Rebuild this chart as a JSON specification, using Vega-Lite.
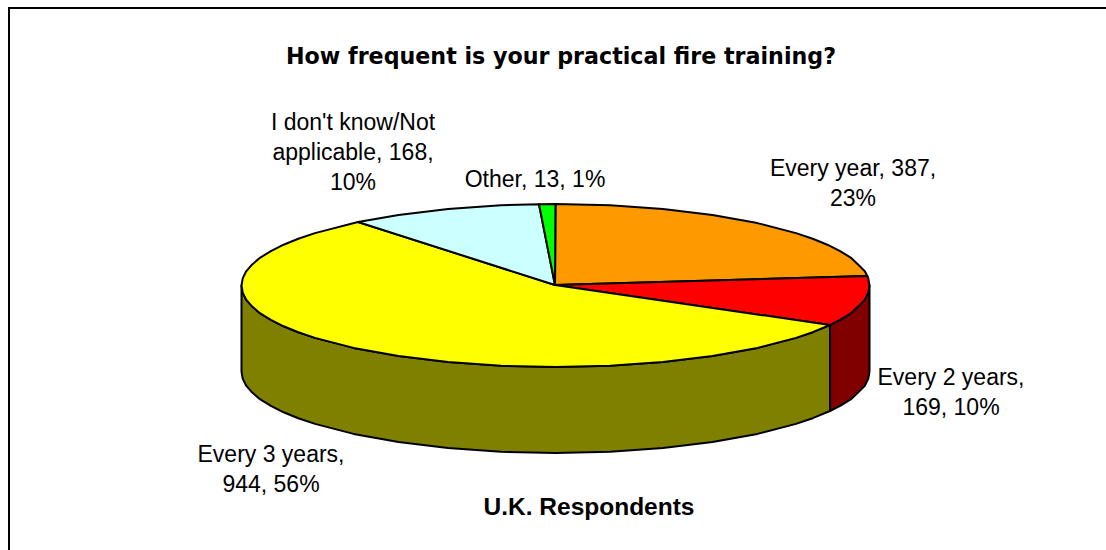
{"$schema":"https://vega.github.io/schema/vega-lite/v6.json","width":1106,"height":550,"padding":0,"autosize":{"type":"none"},"background":"white","view":{"stroke":null},
"datasets":{
"faces":[
{"face":"Every 3 years side","x":830,"y":325},{"face":"Every 3 years side","x":812.7,"y":332.2},{"face":"Every 3 years side","x":796,"y":337.9},{"face":"Every 3 years side","x":757.4,"y":347.9},{"face":"Every 3 years side","x":712.5,"y":356.1},{"face":"Every 3 years side","x":662.9,"y":362.1},{"face":"Every 3 years side","x":610.1,"y":365.8},{"face":"Every 3 years side","x":555.5,"y":367},{"face":"Every 3 years side","x":500.9,"y":365.8},{"face":"Every 3 years side","x":448.1,"y":362.1},{"face":"Every 3 years side","x":398.5,"y":356.1},{"face":"Every 3 years side","x":353.6,"y":347.9},{"face":"Every 3 years side","x":315,"y":337.9},{"face":"Every 3 years side","x":298.3,"y":332.2},{"face":"Every 3 years side","x":283.6,"y":326.3},{"face":"Every 3 years side","x":270.9,"y":319.9},{"face":"Every 3 years side","x":260.3,"y":313.4},{"face":"Every 3 years side","x":252.2,"y":306.6},{"face":"Every 3 years side","x":246.2,"y":299.7},{"face":"Every 3 years side","x":242.7,"y":292.6},{"face":"Every 3 years side","x":241.5,"y":285.5},{"face":"Every 3 years side","x":241.5,"y":371.5},{"face":"Every 3 years side","x":242.7,"y":378.6},{"face":"Every 3 years side","x":246.2,"y":385.7},{"face":"Every 3 years side","x":252.2,"y":392.6},{"face":"Every 3 years side","x":260.3,"y":399.4},{"face":"Every 3 years side","x":270.9,"y":405.9},{"face":"Every 3 years side","x":283.6,"y":412.3},{"face":"Every 3 years side","x":298.3,"y":418.2},{"face":"Every 3 years side","x":315,"y":423.9},{"face":"Every 3 years side","x":353.6,"y":433.9},{"face":"Every 3 years side","x":398.5,"y":442.1},{"face":"Every 3 years side","x":448.1,"y":448.1},{"face":"Every 3 years side","x":500.9,"y":451.8},{"face":"Every 3 years side","x":555.5,"y":453},{"face":"Every 3 years side","x":610.1,"y":451.8},{"face":"Every 3 years side","x":662.9,"y":448.1},{"face":"Every 3 years side","x":712.5,"y":442.1},{"face":"Every 3 years side","x":757.4,"y":433.9},{"face":"Every 3 years side","x":796,"y":423.9},{"face":"Every 3 years side","x":812.7,"y":418.2},{"face":"Every 3 years side","x":830,"y":411},{"face":"Every 3 years side","x":830,"y":325},
{"face":"Every 2 years side","x":830,"y":325},{"face":"Every 2 years side","x":840.1,"y":319.9},{"face":"Every 2 years side","x":850.7,"y":313.4},{"face":"Every 2 years side","x":858,"y":306.6},{"face":"Every 2 years side","x":864.8,"y":299.7},{"face":"Every 2 years side","x":868.3,"y":292.6},{"face":"Every 2 years side","x":869.5,"y":285.5},{"face":"Every 2 years side","x":869.5,"y":371.5},{"face":"Every 2 years side","x":868.3,"y":378.6},{"face":"Every 2 years side","x":864.8,"y":385.7},{"face":"Every 2 years side","x":858,"y":392.6},{"face":"Every 2 years side","x":850.7,"y":399.4},{"face":"Every 2 years side","x":840.1,"y":405.9},{"face":"Every 2 years side","x":830,"y":411},{"face":"Every 2 years side","x":830,"y":325},
{"face":"Every year","x":555,"y":285},{"face":"Every year","x":555.5,"y":204},{"face":"Every year","x":610.1,"y":205.2},{"face":"Every year","x":662.9,"y":208.9},{"face":"Every year","x":712.5,"y":214.9},{"face":"Every year","x":757.4,"y":223.1},{"face":"Every year","x":796,"y":233.1},{"face":"Every year","x":812.7,"y":238.8},{"face":"Every year","x":827.4,"y":244.7},{"face":"Every year","x":840.1,"y":251.1},{"face":"Every year","x":850.7,"y":257.6},{"face":"Every year","x":858,"y":264.4},{"face":"Every year","x":864.8,"y":271.3},{"face":"Every year","x":867.3,"y":276},{"face":"Every year","x":555,"y":285},
{"face":"Every 2 years","x":555,"y":285},{"face":"Every 2 years","x":867.3,"y":276},{"face":"Every 2 years","x":868.3,"y":278.4},{"face":"Every 2 years","x":869.5,"y":285.5},{"face":"Every 2 years","x":868.3,"y":292.6},{"face":"Every 2 years","x":864.8,"y":299.7},{"face":"Every 2 years","x":858,"y":306.6},{"face":"Every 2 years","x":850.7,"y":313.4},{"face":"Every 2 years","x":840.1,"y":319.9},{"face":"Every 2 years","x":830,"y":325},{"face":"Every 2 years","x":555,"y":285},
{"face":"Every 3 years","x":555,"y":285},{"face":"Every 3 years","x":830,"y":325},{"face":"Every 3 years","x":812.7,"y":332.2},{"face":"Every 3 years","x":796,"y":337.9},{"face":"Every 3 years","x":757.4,"y":347.9},{"face":"Every 3 years","x":712.5,"y":356.1},{"face":"Every 3 years","x":662.9,"y":362.1},{"face":"Every 3 years","x":610.1,"y":365.8},{"face":"Every 3 years","x":555.5,"y":367},{"face":"Every 3 years","x":500.9,"y":365.8},{"face":"Every 3 years","x":448.1,"y":362.1},{"face":"Every 3 years","x":398.5,"y":356.1},{"face":"Every 3 years","x":353.6,"y":347.9},{"face":"Every 3 years","x":315,"y":337.9},{"face":"Every 3 years","x":298.3,"y":332.2},{"face":"Every 3 years","x":283.6,"y":326.3},{"face":"Every 3 years","x":270.9,"y":319.9},{"face":"Every 3 years","x":260.3,"y":313.4},{"face":"Every 3 years","x":252.2,"y":306.6},{"face":"Every 3 years","x":246.2,"y":299.7},{"face":"Every 3 years","x":242.7,"y":292.6},{"face":"Every 3 years","x":241.5,"y":285.5},{"face":"Every 3 years","x":242.7,"y":278.4},{"face":"Every 3 years","x":246.2,"y":271.3},{"face":"Every 3 years","x":252.2,"y":264.4},{"face":"Every 3 years","x":260.3,"y":257.6},{"face":"Every 3 years","x":270.9,"y":251.1},{"face":"Every 3 years","x":283.6,"y":244.7},{"face":"Every 3 years","x":298.3,"y":238.8},{"face":"Every 3 years","x":315,"y":233.1},{"face":"Every 3 years","x":358,"y":222},{"face":"Every 3 years","x":555,"y":285},
{"face":"I don't know/Not applicable","x":555,"y":285},{"face":"I don't know/Not applicable","x":358,"y":222},{"face":"I don't know/Not applicable","x":398.5,"y":214.9},{"face":"I don't know/Not applicable","x":448.1,"y":208.9},{"face":"I don't know/Not applicable","x":500.9,"y":205.2},{"face":"I don't know/Not applicable","x":539,"y":204.2},{"face":"I don't know/Not applicable","x":555,"y":285},
{"face":"Other","x":555,"y":285},{"face":"Other","x":539,"y":204.2},{"face":"Other","x":555.5,"y":204},{"face":"Other","x":555,"y":285}
],
"labels":[
{"category":"I don't know/Not applicable","count":168,"percent":10,"label":"I don't know/Not\napplicable, 168,\n10%","x":353,"y":130},
{"category":"Other","count":13,"percent":1,"label":"Other, 13, 1%","x":535,"y":187},
{"category":"Every year","count":387,"percent":23,"label":"Every year, 387,\n23%","x":853,"y":176},
{"category":"Every 2 years","count":169,"percent":10,"label":"Every 2 years,\n169, 10%","x":951,"y":385},
{"category":"Every 3 years","count":944,"percent":56,"label":"Every 3 years,\n944, 56%","x":271,"y":462}
],
"headings":[
{"heading":"How frequent is your practical fire training?","x":561,"y":64,"kind":"title"},
{"heading":"U.K. Respondents","x":589,"y":515,"kind":"sub"}
],
"frame":[{"x":9,"y":550},{"x":9,"y":8},{"x":1106,"y":8}]
},
"layer":[
{"data":{"name":"faces"},"transform":[{"window":[{"op":"row_number","as":"seq"}]}],
"mark":{"type":"line","stroke":"black","strokeWidth":2,"strokeJoin":"round","clip":false},
"encoding":{
"x":{"field":"x","type":"quantitative","scale":{"domain":[0,1106]},"axis":null},
"y":{"field":"y","type":"quantitative","scale":{"domain":[550,0]},"axis":null},
"order":{"field":"seq","type":"quantitative"},
"detail":{"field":"face","type":"nominal"},
"fill":{"field":"face","type":"nominal","legend":null,"scale":{"domain":["Every 3 years side","Every 2 years side","Every year","Every 2 years","Every 3 years","I don't know/Not applicable","Other"],"range":["#808000","#800000","#FF9900","#FF0000","#FFFF00","#CCFFFF","#00FF00"]}}
}},
{"data":{"name":"frame"},"transform":[{"window":[{"op":"row_number","as":"seq"}]}],
"mark":{"type":"line","stroke":"black","strokeWidth":2},
"encoding":{"x":{"field":"x","type":"quantitative","scale":{"domain":[0,1106]},"axis":null},"y":{"field":"y","type":"quantitative","scale":{"domain":[550,0]},"axis":null},"order":{"field":"seq","type":"quantitative"}}},
{"data":{"name":"labels"},
"mark":{"type":"text","font":"Liberation Sans","fontSize":23,"align":"center","baseline":"alphabetic","lineBreak":"\n","lineHeight":30,"color":"black"},
"encoding":{"x":{"field":"x","type":"quantitative","scale":{"domain":[0,1106]},"axis":null},"y":{"field":"y","type":"quantitative","scale":{"domain":[550,0]},"axis":null},"text":{"field":"label"}}},
{"data":{"name":"headings"},"transform":[{"filter":"datum.kind==='title'"}],
"mark":{"type":"text","font":"DejaVu Sans","fontWeight":"bold","fontSize":22.2,"align":"center","baseline":"alphabetic","color":"black"},
"encoding":{"x":{"field":"x","type":"quantitative","scale":{"domain":[0,1106]},"axis":null},"y":{"field":"y","type":"quantitative","scale":{"domain":[550,0]},"axis":null},"text":{"field":"heading"}}},
{"data":{"name":"headings"},"transform":[{"filter":"datum.kind==='sub'"}],
"mark":{"type":"text","font":"Liberation Sans","fontWeight":"bold","fontSize":24.5,"align":"center","baseline":"alphabetic","color":"black"},
"encoding":{"x":{"field":"x","type":"quantitative","scale":{"domain":[0,1106]},"axis":null},"y":{"field":"y","type":"quantitative","scale":{"domain":[550,0]},"axis":null},"text":{"field":"heading"}}}
]}
